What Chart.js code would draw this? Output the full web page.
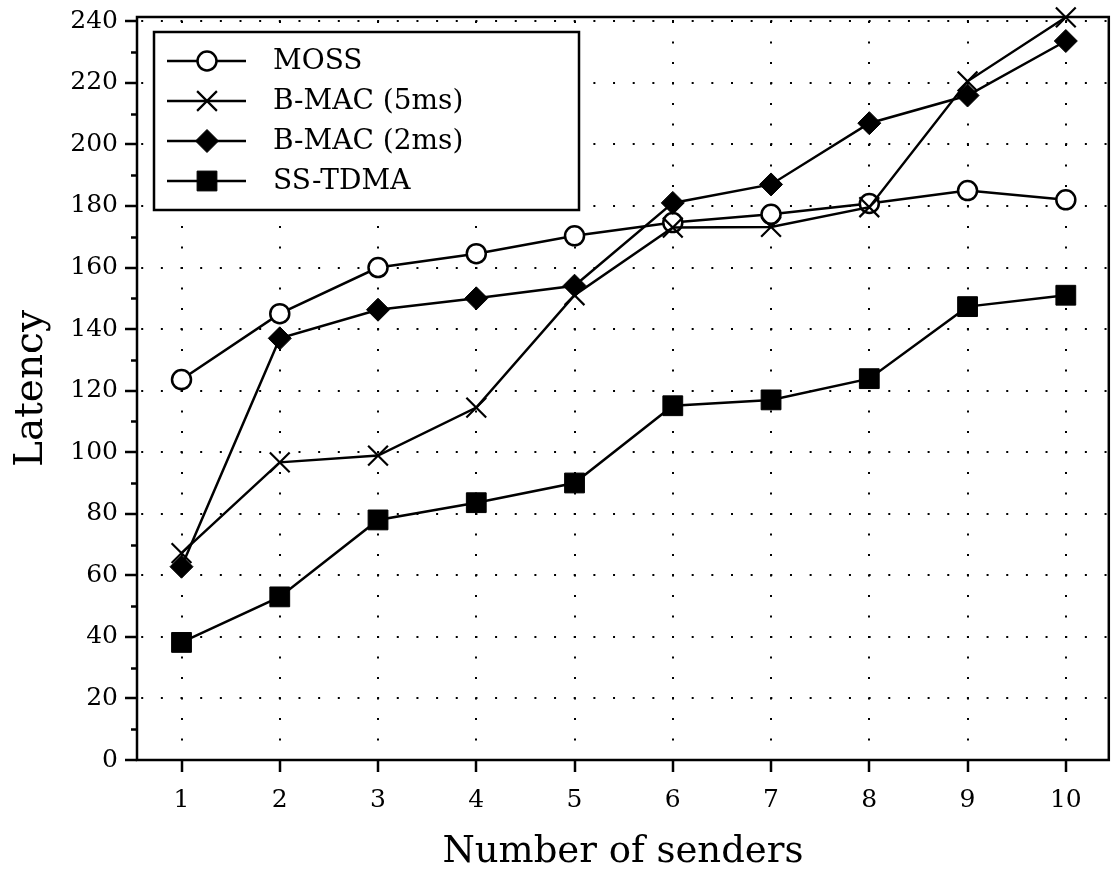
<!DOCTYPE html>
<html lang="en">
<head>
  <meta charset="UTF-8">
  <title>Latency vs Number of senders</title>
  <script src="https://cdn.jsdelivr.net/npm/chart.js"></script>
  <style>
    html, body { margin: 0; padding: 0; background: #fff; overflow: hidden; }
    /* canvas is a bit wider than the window: the extra strip only holds the
       overflow room Chart.js reserves for the big end markers */
    #wrap { width: 1111px; height: 873px; overflow: hidden; }
    canvas { display: block; }
  </style>
</head>
<body>
  <div id="wrap"><canvas id="latencyChart" width="1125" height="873"></canvas></div>
  <script>
    // values
    const senders = [1, 2, 3, 4, 5, 6, 7, 8, 9, 10];
    const mossLatency  = [123.6, 145, 160, 164.5, 170.3, 174.6, 177.3, 180.8, 185, 182];
    const bmac5Latency = [67.2, 96.7, 98.9, 114.5, 151, 173, 173.2, 179.6, 220.5, 241.3];
    const bmac2Latency = [62.8, 137, 146.3, 150, 154.1, 181, 187, 206.9, 215.9, 233.6];
    const tdmaLatency  = [38.2, 53, 78, 83.6, 90, 115.1, 117, 123.9, 147.3, 151];
    const seriesNames  = ["MOSS", "B-MAC (5ms)", "B-MAC (2ms)", "SS-TDMA"];
    const yMajorStep = 20;
    const yMinorStep = 10;

    const FONT = '"DejaVu Serif", "Liberation Serif", serif';

    function toPoints(values) {
      return senders.map((s, i) => ({ x: s, y: values[i] }));
    }

    // short minor ticks on the left axis + full frame box
    const frameAndMinor = {
      id: "frameAndMinor",
      beforeDatasetsDraw(chart) {
        const { ctx, chartArea } = chart;
        const y = chart.scales.y;
        ctx.save();
        ctx.strokeStyle = "#000";
        ctx.lineWidth = 2.5;
        for (let v = yMinorStep; v < y.max; v += yMajorStep) {
          const py = Math.round(y.getPixelForValue(v)) + 0.5;
          ctx.beginPath();
          ctx.moveTo(chartArea.left - 6, py);
          ctx.lineTo(chartArea.left, py);
          ctx.stroke();
        }
        ctx.strokeRect(chartArea.left, chartArea.top, chartArea.right - chartArea.left, chartArea.bottom - chartArea.top);
        ctx.restore();
      }
    };

    // boxed legend inside the plot, upper left
    const boxLegend = {
      id: "boxLegend",
      afterDraw(chart) {
        const { ctx, chartArea } = chart;
        const left = chartArea.left + 17, top = chartArea.top + 15;
        ctx.save();
        ctx.fillStyle = "#fff";
        ctx.strokeStyle = "#000";
        ctx.lineWidth = 2.5;
        ctx.fillRect(left, top, 425, 178);
        ctx.strokeRect(left, top, 425, 178);
        chart.data.datasets.forEach((ds, i) => {
          const ly = top + 29 + i * 40;
          ctx.strokeStyle = "#000";
          ctx.lineWidth = ds.borderWidth;
          ctx.beginPath();
          ctx.moveTo(left + 13, ly);
          ctx.lineTo(left + 92, ly);
          ctx.stroke();
          ctx.fillStyle = ds.pointBackgroundColor;
          ctx.lineWidth = ds.pointBorderWidth;
          Chart.helpers.drawPoint(ctx, {
            pointStyle: ds.pointStyle, radius: ds.pointRadius,
            borderWidth: ds.pointBorderWidth, rotation: 0
          }, left + 53, ly);
          ctx.fillStyle = "#000";
          ctx.font = "28px " + FONT;
          ctx.textBaseline = "middle";
          ctx.textAlign = "left";
          ctx.fillText(ds.label, left + 119, ly + 1);
        });
        ctx.restore();
      }
    };

    const common = { borderColor: "#000", borderWidth: 2.5, tension: 0, clip: false, pointBorderColor: "#000", pointHoverRadius: 0 };

    new Chart(document.getElementById("latencyChart"), {
      type: "line",
      data: {
        datasets: [
          { ...common, label: seriesNames[0], data: toPoints(mossLatency), order: 4,
            pointStyle: "circle", pointRadius: 9.5, pointBorderWidth: 2.5, pointBackgroundColor: "#fff" },
          { ...common, label: seriesNames[1], data: toPoints(bmac5Latency), order: 3,
            pointStyle: "crossRot", pointRadius: 14, pointBorderWidth: 2.2, pointBackgroundColor: "#000" },
          { ...common, label: seriesNames[2], data: toPoints(bmac2Latency), order: 2,
            pointStyle: "rectRot", pointRadius: 11.5, pointBorderWidth: 1, pointBackgroundColor: "#000" },
          { ...common, label: seriesNames[3], data: toPoints(tdmaLatency), order: 1,
            pointStyle: "rect", pointRadius: 14, pointBorderWidth: 1, pointBackgroundColor: "#000" }
        ]
      },
      options: {
        responsive: false,
        animation: false,
        events: [],
        devicePixelRatio: 1,
        layout: { padding: { top: 17, right: 2, left: 0, bottom: 0 } },
        plugins: { legend: { display: false }, tooltip: { enabled: false } },
        scales: {
          x: {
            type: "linear",
            min: 0.547,
            max: 10.4375,
            afterFit(scale) { scale.height = 113; scale.paddingLeft = 0; scale.paddingRight = 0; },
            ticks: { stepSize: 1, includeBounds: false, color: "#000", padding: 13,
                     font: { family: FONT, size: 25 } },
            grid: { color: "#000", lineWidth: 2, tickLength: 12, tickWidth: 2.5, tickColor: "#000", tickBorderDash: [] },
            border: { display: false, dash: [2, 18.5], dashOffset: 16.5 },
            title: { display: true, text: "Number of senders", color: "#000",
                     font: { family: FONT, size: 37, lineHeight: 1.1 }, padding: { top: 0, bottom: 0 } }
          },
          y: {
            min: 0,
            max: 241.4,
            afterFit(scale) { scale.width = 137; scale.paddingTop = 0; scale.paddingBottom = 0; },
            ticks: { stepSize: yMajorStep, includeBounds: false, color: "#000", padding: 7,
                     font: { family: FONT, size: 25 } },
            grid: { color: "#000", lineWidth: 2, tickLength: 12, tickWidth: 2.5, tickColor: "#000", tickBorderDash: [] },
            border: { display: false, dash: [2, 17.66], dashOffset: 15.46 },
            title: { display: true, text: "Latency", color: "#000",
                     font: { family: FONT, size: 39, lineHeight: 1.1 }, padding: { top: 10, bottom: 0 } }
          }
        }
      },
      plugins: [frameAndMinor, boxLegend]
    });
  </script>
</body>
</html>
